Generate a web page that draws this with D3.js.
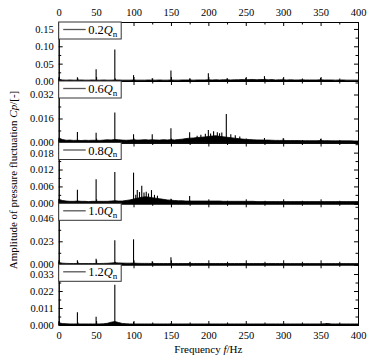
<!DOCTYPE html>
<html><head><meta charset="utf-8">
<script src="https://cdn.jsdelivr.net/npm/d3@7"></script>
<style>
body{margin:0;background:#fff}
svg{display:block}
text{font-family:"Times New Roman","Liberation Serif",serif;fill:#000}
</style>
</head><body><svg id="c" width="375" height="363"></svg>
<script>
// ---------- data ----------
const frequencyTicks = [0,50,100,150,200,250,300,350,400];
const frequencyMinorTicks = [25,75,125,175,225,275,325,375];
const flowRates = ["0.2","0.6","0.8","1.0","1.2"];
const yMax = [0.17,0.041,0.0216,0.061,0.0393];
const yTicks = [[0,0.05,0.10,0.15],[0,0.016,0.032],[0,0.006,0.012,0.018],[0,0.023,0.046],[0,0.011,0.022,0.033]];
const yMinorTicks = [[0.025,0.075,0.125],[0.008,0.024,0.040],[0.003,0.009,0.015,0.021],[0.0115,0.0345,0.0575],[0.0055,0.0165,0.0275]];
const yTickFormats = [".2f",".3f",".3f",".3f",".3f"];

// broadband noise floor, sampled every 5 Hz from 0 to 400 Hz (values x 0.001)
const floorFreq = [0,5,10,15,20,25,30,35,40,45,50,55,60,65,70,75,80,85,90,95,100,105,110,115,120,125,130,135,140,145,150,155,160,165,170,175,180,185,190,195,200,205,210,215,220,225,230,235,240,245,250,255,260,265,270,275,280,285,290,295,300,305,310,315,320,325,330,335,340,345,350,355,360,365,370,375,380,385,390,395,400];
const floor02 = [5,3,2.5,3,2.5,2.5,3,2.5,2.5,3, 2.5,2.5,3,2.5,2.5,3,3,2.5,2.5,2.5, 3,2.5,2.5,2.5,3,2.5,2.5,3,2.5,2.5, 3,2.5,2.5,3,3,3,2.5,3,3,3, 3.5,3,3.5,3,3.5,3.5,3,3.5,3.5,4, 3.5,4,4.5,3.5,4.5,4,3.5,4,3,3.5, 3.5,3,3.5,3,3,3.5,3,3,3,3, 3.5,3,3,3,2.5,3,3,2.5,2.5,2.5, 2.5];
const floor06 = [3,2,1.5,1.6,1.4,1.5,1.3,1.5,1.4,1.5, 1.5,1.4,1.6,1.8,1.7,2,1.8,1.6,1.5,1.6, 1.8,1.6,1.7,1.9,1.7,1.8,1.7,1.6,1.9,1.7, 1.9,1.7,2,2.2,2.6,2.9,3,3.3,3.5,3.7, 4,4.3,4.5,4.1,3.8,3.5,3.2,2.9,2.6,2.3, 2.1,2,1.8,1.7,1.7,1.6,1.6,1.5,1.4,1.4, 1.4,1.3,1.3,1.3,1.3,1.2,1.2,1.2,1.2,1.2, 1.3,1.2,1.2,1.1,1.1,1.1,1.1,1.1,1.1,1, 1];
const floor08 = [1.4,1,0.8,0.7,0.7,0.8,0.7,0.7,0.6,0.7, 0.7,0.7,0.7,0.7,0.8,0.9,0.8,0.8,1,1.2, 1.5,1.8,2.1,2.3,2.2,2,1.8,1.6,1.4,1.2, 1.1,1,0.9,0.9,0.8,0.8,0.8,0.8,0.8,0.8, 0.8,0.8,0.8,0.8,0.7,0.7,0.7,0.7,0.7,0.7, 0.7,0.7,0.7,0.6,0.6,0.6,0.6,0.6,0.6,0.6, 0.6,0.6,0.6,0.6,0.6,0.6,0.6,0.6,0.6,0.6, 0.6,0.6,0.6,0.6,0.6,0.6,0.6,0.6,0.6,0.6, 0.6];
const floor10 = [1.8,1.1,0.9,0.8,0.8,0.8,0.8,0.8,0.8,0.8, 0.8,0.8,0.9,1,1.3,1.6,1.4,1.2,1.1,1.1, 1.2,1,0.9,0.9,0.9,0.8,0.8,0.8,0.8,0.8, 0.8,0.8,0.8,0.8,0.8,0.8,0.8,0.8,0.8,0.8, 0.8,0.8,0.8,0.8,0.8,0.8,0.8,0.8,0.8,0.8, 0.8,0.8,0.8,0.8,0.8,0.8,0.8,0.8,0.8,0.8, 0.8,0.7,0.7,0.7,0.7,0.7,0.7,0.7,0.7,0.7, 0.7,0.7,0.7,0.7,0.7,0.7,0.7,0.7,0.7,0.7, 0.7];
const floor12 = [1.5,0.9,0.8,0.7,0.7,0.7,0.7,0.7,0.7,0.7, 0.7,0.7,0.8,1.1,1.8,2.2,1.6,1,0.8,0.7, 0.7,0.7,0.7,0.7,0.7,0.7,0.7,0.7,0.7,0.7, 0.7,0.7,0.7,0.7,0.7,0.7,0.7,0.7,0.7,0.7, 0.7,0.7,0.7,0.7,0.7,0.7,0.7,0.7,0.7,0.7, 0.7,0.7,0.7,0.7,0.7,0.7,0.7,0.7,0.7,0.7, 0.7,0.7,0.7,0.7,0.7,0.7,0.7,0.7,0.7,0.7, 0.7,0.8,0.9,0.7,0.7,0.7,0.7,0.7,0.7,0.7, 0.7];
const floors = [floor02, floor06, floor08, floor10, floor12];

// discrete spectral peaks
const peakFreq02 = [25,50,75,100,125,150,175,200,225,250,275,300,350];
const peakAmp02  = [0.011,0.034,0.091,0.017,0.008,0.030,0.007,0.022,0.008,0.009,0.014,0.008,0.009];
const peakFreq06 = [25,50,75,100,125,150,175,185,190,196,200,203,207,212,215,218,224,230,236,242,275,300,350];
const peakAmp06  = [0.007,0.0065,0.020,0.0055,0.0055,0.0095,0.0068,0.0045,0.0052,0.0058,0.0083,0.0060,0.0075,0.0068,0.0062,0.0066,0.019,0.0055,0.0048,0.0040,0.003,0.0028,0.0024];
const peakFreq08 = [25,50,75,100,103,105,108,111,114,117,120,124,128,132,150,175];
const peakAmp08  = [0.0048,0.0085,0.0111,0.0109,0.0030,0.0047,0.0040,0.0062,0.0038,0.0041,0.0035,0.0047,0.0030,0.0027,0.0016,0.0026];
const peakFreq10 = [25,50,75,100,125,150,175];
const peakAmp10  = [0.004,0.0056,0.024,0.025,0.003,0.007,0.0018];
const peakFreq12 = [25,50,75,100,150,358];
const peakAmp12  = [0.0082,0.0054,0.026,0.002,0.0012,0.0012];
const peakFreqs = [peakFreq02, peakFreq06, peakFreq08, peakFreq10, peakFreq12];
const peakAmps  = [peakAmp02, peakAmp06, peakAmp08, peakAmp10, peakAmp12];

// ---------- layout ----------
const svg = d3.select("#c");
const left = 58.7, right = 358;
const panelEdges = [22, 81, 142.5, 203.3, 264.3, 325];
const x = d3.scaleLinear().domain([0,400]).range([left,right]);
const FONT = "'Times New Roman','Liberation Serif',serif";

flowRates.forEach((q, i) => {
  const top = panelEdges[i], bottom = panelEdges[i+1];
  const y = d3.scaleLinear().domain([0, yMax[i]]).range([bottom, top]);
  const g = svg.append("g");

  // floor area
  const fl = floors[i].map((v, k) => [floorFreq[k], v/1000]);
  g.append("path").datum(fl)
    .attr("d", d3.area().x(d=>x(d[0])).y0(y(0)).y1(d=>y(d[1])))
    .attr("fill","#000");
  g.append("path").datum(fl)
    .attr("d", d3.line().x(d=>x(d[0])).y(d=>y(d[1])))
    .attr("fill","none").attr("stroke","#000").attr("stroke-width",0.8);

  // peaks
  g.selectAll("line.pk").data(peakFreqs[i].map((f,k)=>[f, peakAmps[i][k]]))
    .enter().append("line")
    .attr("x1", d=>x(d[0])).attr("x2", d=>x(d[0]))
    .attr("y1", y(0)).attr("y2", d=>y(d[1]))
    .attr("stroke","#000").attr("stroke-width",1.1);

  // axes
  const fmt = d3.format(yTickFormats[i]);
  const minor = yMinorTicks[i].filter(v=>v<yMax[i]);
  g.append("g").attr("transform",`translate(${left},0)`)
    .call(d3.axisLeft(y).tickValues(yTicks[i]).tickFormat(fmt).tickSize(-4).tickPadding(5));
  g.append("g").attr("transform",`translate(${left},0)`)
    .call(d3.axisLeft(y).tickValues(minor).tickFormat("").tickSize(-2.5));
  g.append("g").attr("transform",`translate(${right},0)`)
    .call(d3.axisRight(y).tickValues(yTicks[i]).tickFormat("").tickSize(-4));
  g.append("g").attr("transform",`translate(${right},0)`)
    .call(d3.axisRight(y).tickValues(minor).tickFormat("").tickSize(-2.5));

  g.append("g").attr("transform",`translate(0,${top})`)
    .call(d3.axisTop(x).tickValues(frequencyTicks).tickFormat(i===0 ? d3.format("d") : "").tickSize(-4).tickPadding(6));
  g.append("g").attr("transform",`translate(0,${top})`)
    .call(d3.axisTop(x).tickValues(frequencyMinorTicks).tickFormat("").tickSize(-2.5));
  g.append("g").attr("transform",`translate(0,${bottom})`)
    .call(d3.axisBottom(x).tickValues(frequencyTicks).tickFormat(i===4 ? d3.format("d") : "").tickSize(-4).tickPadding(7));
  g.append("g").attr("transform",`translate(0,${bottom})`)
    .call(d3.axisBottom(x).tickValues(frequencyMinorTicks).tickFormat("").tickSize(-2.5));

  g.selectAll(".domain").attr("stroke","#000").attr("stroke-width",1);
  g.selectAll(".tick line").attr("stroke","#000");
  g.selectAll(".tick text").attr("font-size","10.5px").attr("font-family",FONT);

  // legend
  const lg = g.append("g").attr("transform",`translate(${left},${top})`);
  lg.append("rect").attr("x",0).attr("y",0).attr("width",62.5).attr("height",17)
    .attr("fill","#fff").attr("stroke","#333").attr("stroke-width",1);
  lg.append("line").attr("x1",4.5).attr("x2",27).attr("y1",7.5).attr("y2",7.5)
    .attr("stroke","#555").attr("stroke-width",1.3);
  const t = lg.append("text").attr("x",29.5).attr("y",12).attr("font-size","12.5px").attr("font-family",FONT);
  t.append("tspan").text(q);
  t.append("tspan").attr("font-style","italic").text("Q");
  t.append("tspan").attr("font-size","9px").attr("dy",2.5).text("n");
});

// axis titles
const xt = svg.append("text").attr("x",(left+right)/2).attr("y",353)
  .attr("text-anchor","middle").attr("font-size","11px").attr("font-family",FONT);
xt.append("tspan").text("Frequency  ");
xt.append("tspan").attr("font-style","italic").text("f");
xt.append("tspan").text("/Hz");

const yt = svg.append("text").attr("transform","translate(17,180) rotate(-90)")
  .attr("text-anchor","middle").attr("font-size","11px").attr("font-family",FONT);
yt.append("tspan").text("Amplitude of pressure fluctuation ");
yt.append("tspan").attr("font-style","italic").text("Cp");
yt.append("tspan").text("/[-]");
</script>
</body></html>
